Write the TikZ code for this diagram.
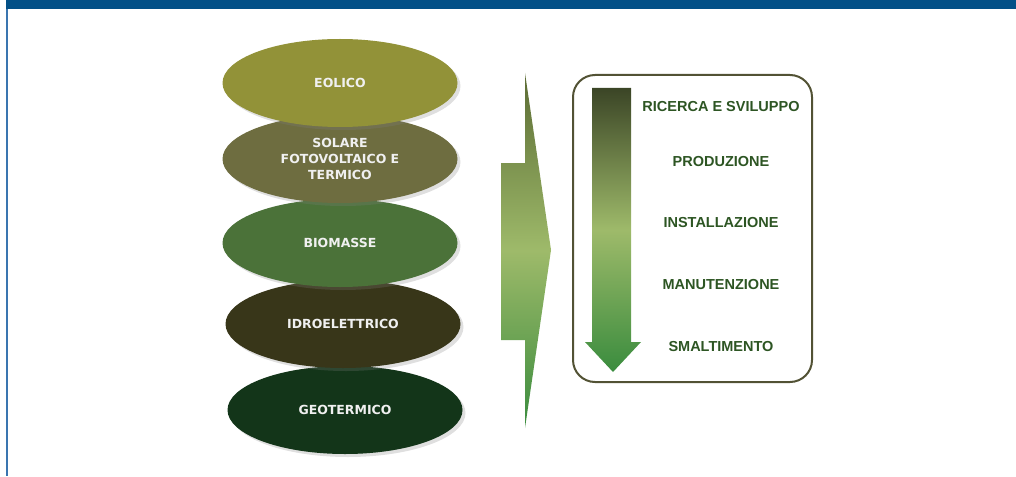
\documentclass[tikz,border=0pt]{standalone}
\usepackage{fontspec}
\setmainfont{Liberation Sans}
\newfontfamily\verdfont{DejaVu Sans}
\usetikzlibrary{shapes.geometric,shadows}

\definecolor{barblue}{RGB}{3,80,135}
\definecolor{lineblue}{RGB}{58,117,176}
\definecolor{eolico}{RGB}{146,146,56}
\definecolor{solare}{RGB}{110,109,64}
\definecolor{biomasse}{RGB}{75,114,57}
\definecolor{idro}{RGB}{56,54,25}
\definecolor{geo}{RGB}{19,53,25}
\definecolor{olivedark}{RGB}{91,107,52}
\definecolor{darkolive}{RGB}{59,69,38}
\definecolor{lightgreen}{RGB}{158,186,106}
\definecolor{midgreen}{RGB}{58,140,62}
\definecolor{boxline}{RGB}{82,82,52}
\definecolor{phasetext}{RGB}{45,85,35}

\begin{document}
\begin{tikzpicture}[x=1pt,y=-1pt,
    source/.style={ellipse,minimum width=235pt,minimum height=88pt,inner sep=0pt,
      align=center,text=white!94!black,font=\verdfont\bfseries\fontsize{12.5}{16}\selectfont,
      drop shadow={shadow xshift=3pt,shadow yshift=-3pt,opacity=.25}},
    phase/.style={text=phasetext,font=\bfseries\fontsize{14.5}{16}\selectfont}]
  \useasboundingbox (0,0) rectangle (1016,476);
  % frame
  \fill[barblue] (6,0) rectangle (1016,9);
  \fill[lineblue] (6,9) rectangle (8,476);
  % sources, bottom one first
  \node[source,fill=geo] (geo) at (345,410) {GEOTERMICO};
  \node[source,fill=idro] (idro) at (343,324) {IDROELETTRICO};
  \node[source,fill=biomasse] (bio) at (340,243) {BIOMASSE};
  \node[source,fill=solare] (sol) at (340,159) {SOLARE\\FOTOVOLTAICO E\\TERMICO};
  \node[source,fill=eolico] (eol) at (340,83) {EOLICO};
  % big arrow
  \shade[top color=olivedark,bottom color=midgreen,middle color=lightgreen]
    (501,163) -- (525,163) -- (525,73) -- (551,250) -- (525,428) -- (525,340) -- (501,340) -- cycle;
  % phases
  \draw[boxline,line width=2pt,rounded corners=22pt] (573,75) rectangle (812,382);
  \shade[top color=darkolive,bottom color=midgreen,middle color=lightgreen]
    (592,88) -- (631,88) -- (631,342) -- (641,342) -- (613,372) -- (585,342) -- (592,342) -- cycle;
  \node[phase] (ric) at (721,107) {RICERCA E SVILUPPO};
  \node[phase] (prod) at (721,162) {PRODUZIONE};
  \node[phase] (inst) at (721,223) {INSTALLAZIONE};
  \node[phase] (man) at (721,285) {MANUTENZIONE};
  \node[phase] (sma) at (721,347) {SMALTIMENTO};
\end{tikzpicture}
\end{document}
